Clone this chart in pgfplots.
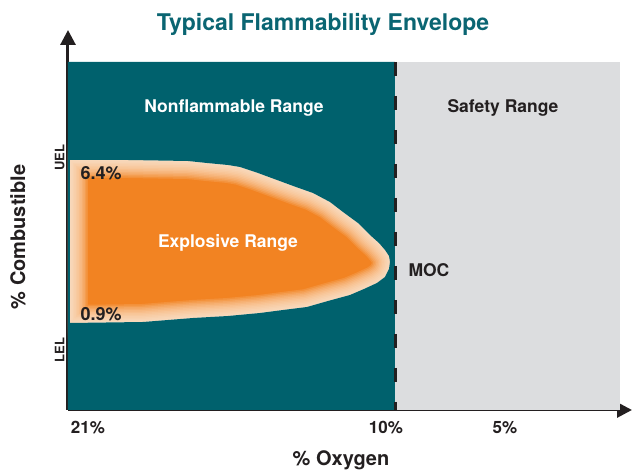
\documentclass[border=0pt]{standalone}
\usepackage{pgfplots}
\pgfplotsset{compat=1.18}
\usepackage{pgfplotstable}
\usepackage{fontspec}
\setmainfont{TeX Gyre Heros}
\usetikzlibrary{arrows.meta}
\definecolor{teal1}{HTML}{00616D}
\definecolor{gray1}{HTML}{DCDDDF}
\definecolor{orng}{HTML}{F28322}
\definecolor{peach}{HTML}{FFF0E2}
\definecolor{dark}{HTML}{231F20}
\definecolor{titlec}{HTML}{0A6572}

\pgfplotstableread{
x y
2 250
60 250
120 249
139 247
160 245
172 243
190 237
209 230
228 223
245 217
262 208
275 198
290 187
302 175
311 167
317 160
321 154
322 148
321 141
317 133
309 127
296 121
282 115
260 109
239 103
215 100
192 97
160 94
125 92
75 88
2 87
}\shapetab

\pgfplotsset{glow/.style={draw=peach, line width=#1, draw opacity=0.13, line join=round}}

\begin{document}
\begin{tikzpicture}
\useasboundingbox (-68pt,-63pt) rectangle (565pt,410pt);
\begin{axis}[
  scale only axis, width=564pt, height=380pt,
  xmin=0, xmax=564, ymin=0, ymax=380,
  axis lines=left,
  axis line style={line width=3pt, dark, -{Triangle[length=15pt,width=15pt]}},
  clip mode=individual,
  xtick={20,318,437}, xticklabels={21\%,10\%,5\%},
  ytick={70,262}, yticklabels={LEL,UEL},
  major tick length=0pt,
  xticklabel style={font=\bfseries\fontsize{17}{17}\selectfont, text=dark, yshift=-8pt},
  yticklabel style={rotate=90, anchor=south, font=\bfseries\fontsize{13}{13}\selectfont, text=dark, xshift=-10pt},
]
% safety range
\addplot[fill=gray1, draw=none] coordinates {(327,0) (552,0) (552,348) (327,348)} -- cycle;
% explosive range
\addplot[fill=orng, draw=none] table {\shapetab} -- cycle;
\addplot[glow=36pt] table {\shapetab} -- cycle;
\addplot[glow=33pt] table {\shapetab} -- cycle;
\addplot[glow=30pt] table {\shapetab} -- cycle;
\addplot[glow=27pt] table {\shapetab} -- cycle;
\addplot[glow=24pt] table {\shapetab} -- cycle;
\addplot[glow=21pt] table {\shapetab} -- cycle;
\addplot[glow=18pt] table {\shapetab} -- cycle;
\addplot[glow=15pt] table {\shapetab} -- cycle;
\addplot[glow=12pt] table {\shapetab} -- cycle;
\addplot[glow=9pt] table {\shapetab} -- cycle;
\addplot[glow=6pt] table {\shapetab} -- cycle;
\addplot[glow=3pt] table {\shapetab} -- cycle;
% nonflammable range (with hole)
\addplot[fill=teal1, draw=none, even odd rule, unbounded coords=jump] coordinates {
(0,0) (327,0) (327,348) (0,348) (0,0) (nan,nan)
(2,250) (60,250) (120,249) (139,247) (160,245) (172,243) (190,237) (209,230) (228,223) (245,217) (262,208) (275,198) (290,187) (302,175) (311,167) (317,160) (321,154) (322,148) (321,141) (317,133) (309,127) (296,121) (282,115) (260,109) (239,103) (215,100) (192,97) (160,94) (125,92) (75,88) (2,87) (2,250)};
% re-cover gray
\addplot[fill=gray1, draw=none] coordinates {(327,0) (552,0) (552,348) (327,348)} -- cycle;
% MOC line
\addplot[dark, line width=3pt, dash pattern=on 14pt off 20pt] coordinates {(327,348) (327,0)};

\node[text=white, font=\bfseries\fontsize{17.5}{17.5}\selectfont] at (axis cs:166,302) {Nonflammable Range};
\node[text=dark, font=\bfseries\fontsize{17.5}{17.5}\selectfont] at (axis cs:435,302) {Safety Range};
\node[text=white, font=\bfseries\fontsize{17.5}{17.5}\selectfont] at (axis cs:160,167) {Explosive Range};
\node[text=dark, anchor=west, font=\bfseries\fontsize{18}{18}\selectfont] at (axis cs:9,237) {6.4\%};
\node[text=dark, anchor=west, font=\bfseries\fontsize{18}{18}\selectfont] at (axis cs:9,96) {0.9\%};
\node[text=dark, anchor=west, font=\bfseries\fontsize{17.5}{17.5}\selectfont] at (axis cs:337,140) {MOC};
\node[text=titlec, font=\bfseries\fontsize{23}{23}\selectfont] at (axis cs:255,386) {Typical Flammability Envelope};
\node[text=dark, font=\bfseries\fontsize{20}{20}\selectfont] at (axis cs:273,-50) {\% Oxygen};
\node[text=dark, rotate=90, font=\bfseries\fontsize{20}{20}\selectfont] at (axis cs:-50,173) {\% Combustible};
\end{axis}
\end{tikzpicture}
\end{document}
